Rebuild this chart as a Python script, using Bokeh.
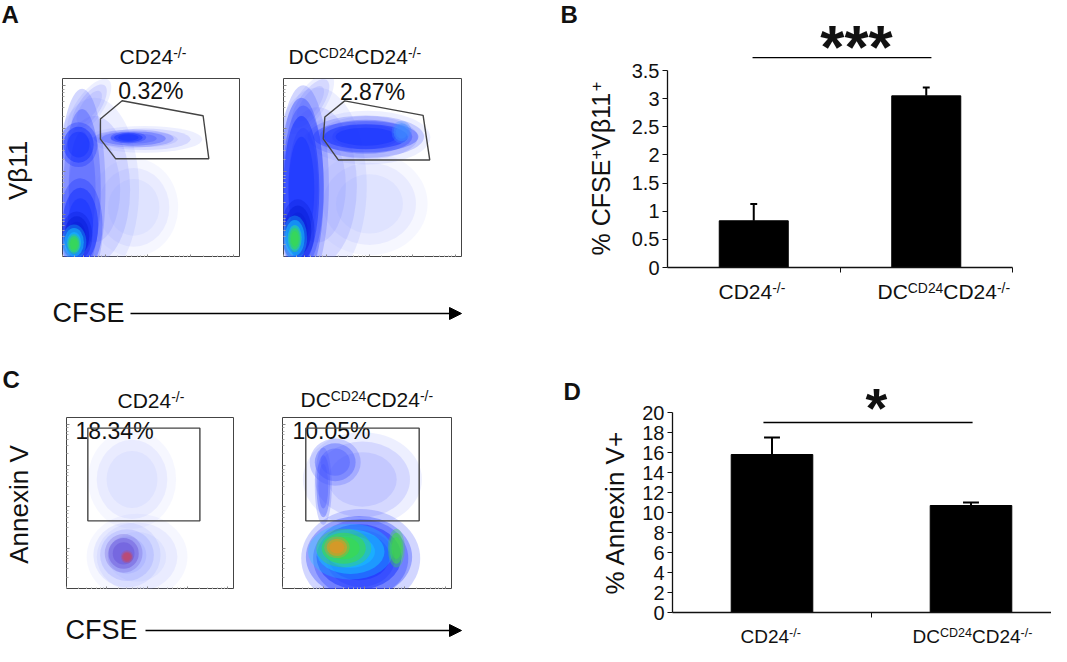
import math
from bokeh.plotting import figure
from bokeh.layouts import row, column
from bokeh.models import Range1d, FixedTicker, Arrow, NormalHead
from bokeh.core.properties import value
from bokeh.embed import file_html
from bokeh.resources import INLINE

FONT = "Liberation Sans"
INK = "#111111"
MID = 0.37  # text anchor sits this many em above the baseline in the rendered page

# ---------------- data ----------------
BAR_POS = [0.5, 1.5]
B_MEAN = [0.83, 3.05]
B_ERR = [0.30, 0.15]
B_TICKS = [0, 0.5, 1, 1.5, 2, 2.5, 3, 3.5]
B_TICK_LABELS = ["0", "0.5", "1", "1.5", "2", "2.5", "3", "3.5"]
D_MEAN = [15.8, 10.7]
D_ERR = [1.7, 0.3]
D_TICKS = [0, 2, 4, 6, 8, 10, 12, 14, 16, 18, 20]
D_TICK_LABELS = ["0", "2", "4", "6", "8", "10", "12", "14", "16", "18", "20"]
B_SIG = "***"
D_SIG = "*"
GROUP_RUNS = [
    [("CD24", False), ("-/-", True)],
    [("DC", False), ("CD24", True), ("CD24", False), ("-/-", True)],
]
A_PCT = ["0.32%", "2.87%"]
C_PCT = ["18.34%", "10.05%"]

# flow plots: populations (center x, center y, width, height, angle, density level), 0-100 scale
A1_X = [40, 18, 15, 46, 11, 40, 9, 10, 37, 8, 6.5, 6.4]
A1_Y = [28, 38, 84, 66, 38, 66.5, 63, 18, 67, 12, 8.5, 7.5]
A1_W = [40, 40, 30, 52, 21, 36, 17, 20, 16, 14, 11, 6]
A1_H = [44, 82, 12, 12, 90, 8, 20, 42, 5, 22, 16, 9]
A1_ANG = [0, 0, 55, 0, 0, 0, 0, 0, 0, 0, 0, 0]
A1_LVL = ["faint", "sparse", "sparse", "sparse", "medium", "medium", "dense", "dense", "dense", "deep", "cyan", "green"]

A2_X = [48, 19, 15, 47, 11, 46, 10, 46, 66, 8, 6.3, 6.3]
A2_Y = [30, 40, 86, 67, 40, 67.5, 38, 67.5, 70, 15, 11, 10.5]
A2_W = [52, 44, 32, 56, 23, 52, 20, 47, 9, 15, 11, 6]
A2_H = [46, 88, 13, 24, 90, 19, 82, 14, 10, 28, 20, 12]
A2_ANG = [0, 0, 55, 0, 0, 0, 0, 0, 0, 0, 0, 0]
A2_LVL = ["faint", "sparse", "sparse", "sparse", "medium", "medium", "dense", "dense", "bright", "deep", "cyan", "green"]

C1_X = [39, 42, 36, 34, 36]
C1_Y = [64, 19, 20, 21, 19]
C1_W = [42, 48, 32, 18, 6]
C1_H = [46, 40, 30, 18, 6]
C1_ANG = [0, 0, 0, 0, 0]
C1_LVL = ["faint", "faint", "sparse", "purple", "red"]

C2_X = [47, 31, 24, 46, 45, 40, 36, 67, 32]
C2_Y = [64, 74, 60, 18, 19, 22, 24, 24, 24.5]
C2_W = [56, 24, 8, 56, 50, 40, 26, 8, 12]
C2_H = [44, 22, 36, 46, 38, 26, 18, 18, 10]
C2_ANG = [0, 0, 0, 0, 0, 0, 0, 0, 0]
C2_LVL = ["sparse", "medium", "medium", "medium", "dense", "cyan", "green", "green", "orange"]

GATE_A1_X = [33.5, 79.0, 82.2, 29.8, 21.3, 21.3]
GATE_A1_Y = [87.6, 79.2, 55.2, 55.2, 66.1, 77.4]
GATE_A2_X = [34.2, 78.0, 81.7, 30.6, 22.2, 23.1]
GATE_A2_Y = [87.5, 79.4, 54.5, 54.5, 66.3, 78.5]
GATE_C1 = [12.7, 79.4, 39.9, 93.8]   # left, right, bottom, top
GATE_C2 = [13.7, 80.4, 39.9, 93.8]

FLOW_TICKS = [0, 24, 48, 72, 96]
FLOW_MINOR = [7, 12, 15, 18, 20, 22, 31, 36, 39, 42, 44, 46, 55, 60, 63, 66, 68, 70, 79, 84, 87, 90, 92, 94]

LEVELS = {
    "faint": ("#aab2ff", 0.30),
    "sparse": ("#8490ff", 0.42),
    "medium": ("#4457ff", 0.7),
    "dense": ("#1530ff", 0.9),
    "deep": ("#0a1fd8", 0.95),
    "bright": ("#3f8cff", 0.9),
    "cyan": ("#19c8ff", 0.9),
    "green": ("#3ee03e", 0.95),
    "purple": ("#5a40d0", 0.65),
    "orange": ("#ff8a1a", 0.85),
    "red": ("#e03a3a", 0.6),
}
# soft edge: each population is drawn as three nested layers (size factor, share of opacity)
SOFT = [(1.25, 0.35), (1.0, 0.55), (0.72, 0.5)]

# ---------------- helpers ----------------
CW = {'C': 0.722, 'D': 0.722, '-': 0.333, '/': 0.278, '%': 0.889, '.': 0.278, ' ': 0.278,
      'S': 0.667, 'F': 0.611, 'E': 0.667, 'V': 0.667, 'β': 0.573, 'A': 0.667, 'n': 0.556,
      'e': 0.556, 'x': 0.5, 'i': 0.222, '+': 0.584}


def tw(s, size):
    return sum(CW.get(c, 0.556) for c in s) * size


def canvas(x0, x1, y0, y1, mbl=0, mbr=0):
    """Blank drawing strip in page pixels; with side borders its frame spans x0..x1."""
    p = figure(width=x1 - x0 + mbl + mbr, height=y1 - y0, x_range=Range1d(x0, x1), y_range=Range1d(y1, y0),
               toolbar_location=None, output_backend="svg", min_border=0,
               min_border_left=mbl, min_border_right=mbr,
               x_axis_location=None, y_axis_location=None)
    p.grid.visible = False
    p.outline_line_color = None
    return p


def txt(p, x, y, t, size, bold=False, align="left", angle=0.0):
    p.text(x=[x], y=[y], text=[t], text_font=value(FONT), text_font_size=f"{size:.1f}px",
           text_align=align, text_baseline="alphabetic", angle=angle, text_color=INK,
           text_font_style="bold" if bold else "normal")


def runs(p, x, y, parts, size, angle=0.0, sup_scale=0.66, rise=0.32):
    """x, y: start of the first run on its baseline (canvas units = page pixels, y down)."""
    pos = 0.0
    for t, sup in parts:
        s = size * sup_scale if sup else size
        off = (size * rise if sup else 0.0) + MID * s
        if angle == 0:
            px, py = x + pos, y - off
        else:
            px, py = x - off, y - pos
        txt(p, px, py, t, s, angle=angle)
        pos += tw(t, s)


def runs_len(parts, size, sup_scale=0.66):
    return sum(tw(t, size * sup_scale if s else size) for t, s in parts)


def style_hidden_labels(ax):
    ax.major_label_text_font_size = "1px"
    ax.major_label_text_color = None
    ax.major_label_standoff = 0


def flow_fig(w, h, X, Y, W, H, ANG, LVL, pct):
    p = figure(width=w, height=h, x_range=Range1d(0, 100), y_range=Range1d(0, 100),
               toolbar_location=None, output_backend="svg", min_border=0)
    p.grid.visible = False
    for ax in (p.xaxis[0], p.yaxis[0]):
        ax.ticker = FixedTicker(ticks=FLOW_TICKS, minor_ticks=FLOW_MINOR)
        style_hidden_labels(ax)
        ax.major_tick_in = 3
        ax.major_tick_out = 0
        ax.minor_tick_in = 2
        ax.minor_tick_out = 0
        ax.axis_line_color = None
        ax.major_tick_line_color = "#888888"
        ax.minor_tick_line_color = "#aaaaaa"
    p.outline_line_color = "#444444"
    p.outline_line_width = 1
    for i in range(len(X)):
        col, alpha = LEVELS[LVL[i]]
        for k, share in SOFT:
            p.ellipse(x=[X[i]], y=[Y[i]], width=[W[i] * k], height=[H[i] * k], angle=[ANG[i]],
                      angle_units="deg", fill_color=col, fill_alpha=alpha * share, line_color=None)
    txt(p, pct[0], pct[1] + MID * 23 * 100.0 / h, pct[2], 23)
    return p


def bar_fig(w, h, x_end, px_per_unit, frame_h, mb, mean, err, ticks, labels, cap, bar_w):
    p = figure(width=w, height=h, x_range=Range1d(0, x_end), y_range=Range1d(0, frame_h / px_per_unit),
               toolbar_location=None, output_backend="svg",
               min_border_left=mb[0], min_border_right=mb[1], min_border_top=mb[2], min_border_bottom=mb[3])
    p.grid.visible = False
    p.outline_line_color = None
    ya = p.yaxis[0]
    ya.ticker = FixedTicker(ticks=ticks)
    ya.bounds = (ticks[0], ticks[-1])
    ya.major_label_overrides = {(int(t) if float(t).is_integer() else t): l for t, l in zip(ticks, labels)}
    ya.major_label_text_font = FONT
    ya.major_label_text_font_size = "20px"
    ya.major_label_text_color = INK
    ya.major_label_standoff = 3
    ya.major_tick_in = 0
    ya.major_tick_out = 5
    ya.minor_tick_line_color = None
    ya.axis_line_color = INK
    ya.major_tick_line_color = INK
    ya.axis_line_width = 1.3
    xa = p.xaxis[0]
    xa.ticker = FixedTicker(ticks=[1, 2])
    style_hidden_labels(xa)
    xa.major_tick_in = 0
    xa.major_tick_out = 5
    xa.minor_tick_line_color = None
    xa.axis_line_color = INK
    xa.major_tick_line_color = INK
    xa.axis_line_width = 1.3
    p.vbar(x=BAR_POS, top=mean, width=bar_w, fill_color="black", line_color="black")
    tops = [m + e for m, e in zip(mean, err)]
    p.segment(x0=BAR_POS, y0=mean, x1=BAR_POS, y1=tops, line_color="black", line_width=2)
    p.segment(x0=[x - cap for x in BAR_POS], y0=tops, x1=[x + cap for x in BAR_POS], y1=tops,
              line_color="black", line_width=2)
    return p


def letter(p, x, y, t):
    txt(p, x, y - MID * 24, t, 24, bold=True)


def cfse_arrow(p, x, y, x0, x1, ya):
    txt(p, x, y - MID * 27, "CFSE", 27)
    p.add_layout(Arrow(end=NormalHead(size=12, fill_color="black", line_color="black"),
                       x_start=x0, y_start=ya, x_end=x1, y_end=ya, line_width=1.5, line_color="black"))


ROT = math.pi / 2

# ---------------- top row: A + B ----------------
Atop = canvas(0, 470, 0, 78)
letter(Atop, 1, 23, "A")
runs(Atop, 119, 64, GROUP_RUNS[0], 21)
runs(Atop, 288, 64, GROUP_RUNS[1], 21)

Al = canvas(0, 62, 78, 257)
vb = [("Vβ11", False)]
runs(Al, 27, 169 + runs_len(vb, 26) / 2, vb, 26, angle=ROT)
fA1 = flow_fig(178, 179, A1_X, A1_Y, A1_W, A1_H, A1_ANG, A1_LVL, (31.3, 88.2, A_PCT[0]))
fA1.patch(GATE_A1_X, GATE_A1_Y, fill_color=None, line_color="#444444", line_width=1.4)
Am = canvas(240, 283, 78, 257)
fA2 = flow_fig(179, 179, A2_X, A2_Y, A2_W, A2_H, A2_ANG, A2_LVL, (31.5, 87.8, A_PCT[1]))
fA2.patch(GATE_A2_X, GATE_A2_Y, fill_color=None, line_color="#444444", line_width=1.4)
Ar = canvas(462, 470, 78, 257)
Abot = canvas(0, 470, 257, 330)
cfse_arrow(Abot, 52, 322, 130, 461, 313)

Astrip = canvas(470, 617, 0, 330)
letter(Astrip, 560, 23, "B")
bl = [("% CFSE", False), ("+", True), ("Vβ11", False), ("+", True)]
runs(Astrip, 610, 168 + runs_len(bl, 25) / 2, bl, 25, angle=ROT)

B_PX = 197 / 3.5
# frame: x 667..1012, y 10..267 on the page
figB = bar_fig(434, 279, 2.0, B_PX, 257, (50, 39, 10, 12), B_MEAN, B_ERR, B_TICKS, B_TICK_LABELS, 0.02, 0.4)
figB.segment(x0=[0.493], y0=[3.73], x1=[1.53], y1=[3.73], line_color="black", line_width=1.3)
txt(figB, 1.096, 3.93, B_SIG, 62, bold=True, align="center")
figBlab = canvas(667, 1012, 279, 330, mbl=50, mbr=39)
runs(figBlab, 718, 299, GROUP_RUNS[0], 21)
runs(figBlab, 877, 299, GROUP_RUNS[1], 21)

top = row(column(Atop, row(Al, fA1, Am, fA2, Ar), Abot), Astrip, column(figB, figBlab))

# ---------------- bottom row: C + D ----------------
Ctop = canvas(0, 470, 330, 417)
letter(Ctop, 2, 388, "C")
runs(Ctop, 117, 408, GROUP_RUNS[0], 21)
runs(Ctop, 300, 407, GROUP_RUNS[1], 21)

Cl = canvas(0, 66, 417, 589)
an = [("Annexin V", False)]
runs(Cl, 28, 504 + runs_len(an, 26) / 2, an, 26, angle=ROT)
fC1 = flow_fig(168, 172, C1_X, C1_Y, C1_W, C1_H, C1_ANG, C1_LVL, (5.4, 87, C_PCT[0]))
fC1.quad(left=[GATE_C1[0]], right=[GATE_C1[1]], bottom=[GATE_C1[2]], top=[GATE_C1[3]],
         fill_color=None, line_color="#444444", line_width=1.4)
Cm = canvas(234, 282, 417, 589)
fC2 = flow_fig(170, 172, C2_X, C2_Y, C2_W, C2_H, C2_ANG, C2_LVL, (5.9, 87, C_PCT[1]))
fC2.quad(left=[GATE_C2[0]], right=[GATE_C2[1]], bottom=[GATE_C2[2]], top=[GATE_C2[3]],
         fill_color=None, line_color="#444444", line_width=1.4)
Cr = canvas(452, 470, 417, 589)
Cbot = canvas(0, 470, 589, 646)
cfse_arrow(Cbot, 65, 639, 145, 461, 630)

Cstrip = canvas(470, 632, 330, 646)
letter(Cstrip, 563, 400, "D")
dl = [("% Annexin V+", False)]
runs(Cstrip, 624, 512 + runs_len(dl, 26) / 2, dl, 26, angle=ROT)

# frame: x 672..1051, y 335..612 on the page (0 at 612, 20 at 412)
D_PX = 10.0
D_XEND = 2 * (1051 - 672) / (1070 - 672)
figD = bar_fig(419, 293, D_XEND, D_PX, 277, (40, 0, 5, 11), D_MEAN, D_ERR, D_TICKS, D_TICK_LABELS, 0.04, 0.41)
figD.segment(x0=[0.457], y0=[19.0], x1=[1.508], y1=[19.0], line_color="black", line_width=1.3)
txt(figD, 1.025, 20.5, D_SIG, 56, bold=True, align="center")
figDlab = canvas(672, 1051, 623, 646, mbl=40, mbr=0)
runs(figDlab, 740, 643, GROUP_RUNS[0], 19)
runs(figDlab, 912, 643, GROUP_RUNS[1], 19)

bottom = row(column(Ctop, row(Cl, fC1, Cm, fC2, Cr), Cbot), Cstrip, column(figD, figDlab))

p = column(top, bottom)
open("out.html", "w").write(file_html(p, INLINE))
